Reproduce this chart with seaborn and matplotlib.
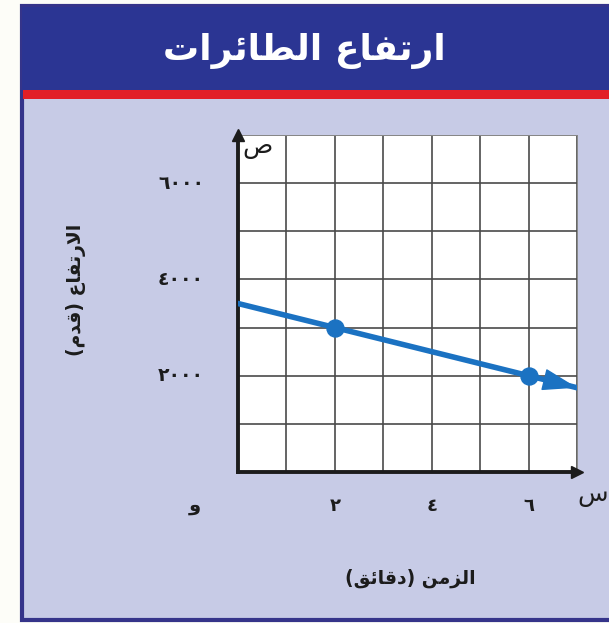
import numpy as np
import pandas as pd
import matplotlib
matplotlib.use("Agg")
import matplotlib.pyplot as plt
from matplotlib.patches import Rectangle
import seaborn as sns

# ── data ─────────────────────────────────────────────
line_x = [0, 2, 6, 7]                 # time (minutes)
line_y = [3500, 3000, 2000, 1750]     # altitude (feet)
pts_x  = [2, 6]
pts_y  = [3000, 2000]
x_ticks  = [2, 4, 6]
x_labels = ["\u0662", "\u0664", "\u0666"]
y_ticks  = [2000, 4000, 6000]
y_labels = ["\u0662\u0660\u0660\u0660", "\u0664\u0660\u0660\u0660", "\u0666\u0660\u0660\u0660"]

# Arabic text, pre-shaped (presentation forms) in visual order
def vis(codes):
    return "".join(chr(c) for c in reversed(codes))

title_txt = vis([0xFE8D, 0xFEAD, 0xFE97, 0xFED4, 0xFE8E, 0xFEC9, 0x20,
                 0xFE8D, 0xFEDF, 0xFEC4, 0xFE8E, 0xFE8B, 0xFEAE, 0xFE8D, 0xFE95])
xlab_txt = "(" + vis([0xFEA9, 0xFED7, 0xFE8E, 0xFE8B, 0xFED6]) + ") " + \
    vis([0xFE8D, 0xFEDF, 0xFEB0, 0xFEE3, 0xFEE6])
ylab_txt = "(" + vis([0xFED7, 0xFEAA, 0xFEE1]) + ") " + \
    vis([0xFE8D, 0xFEFB, 0xFEAD, 0xFE97, 0xFED4, 0xFE8E, 0xFEC9])
origin_txt = "\uFEED"   # و
s_txt = "\uFEB1"        # س
sad_txt = "\uFEB9"      # ص

# ── style ────────────────────────────────────────────
sns.set_theme(style="white")
plt.rcParams["font.family"] = ["DejaVu Sans"]

NAVY  = "#2b3593"
RED   = "#e21f27"
PANEL = "#c7cbe6"
BLUE  = "#1b72c2"
INK   = "#1c1c1c"

fig = plt.figure(figsize=(6.09, 6.23), dpi=100)
fig.patch.set_facecolor("#fdfdf8")

# panel + title bar
fig.patches.append(Rectangle((0.036, 0.005), 1.0, 0.985, transform=fig.transFigure,
                             facecolor=PANEL, edgecolor="#35348a", lw=3, zorder=-3))
fig.patches.append(Rectangle((0.036, 0.854), 1.0, 0.135, transform=fig.transFigure,
                             facecolor=NAVY, edgecolor="none", zorder=-2))
fig.patches.append(Rectangle((0.038, 0.841), 1.0, 0.014, transform=fig.transFigure,
                             facecolor=RED, edgecolor="none", zorder=-2))
fig.text(0.5, 0.918, title_txt, color="white", fontsize=26, fontweight="bold",
         ha="center", va="center", zorder=3)

ax = fig.add_axes([0.3908, 0.2424, 0.5567, 0.5409])
ax.set_zorder(10)
ax.set_facecolor("white")
ax.set_xlim(0, 7)
ax.set_ylim(0, 7000)
ax.set_xticks(range(0, 8))
ax.set_yticks(range(0, 7001, 1000))
ax.grid(True, color="#4a4a4a", lw=1.2)
ax.tick_params(length=0, labelbottom=False, labelleft=False)
for s in ["top", "right"]:
    ax.spines[s].set_color("#888888")
    ax.spines[s].set_linewidth(0.7)
for s in ["left", "bottom"]:
    ax.spines[s].set_color(INK)
    ax.spines[s].set_linewidth(2.8)

# axis arrows
ax.plot(1, 0, ">", color=INK, ms=9, transform=ax.transAxes, clip_on=False, zorder=6)
ax.plot(0, 1, "^", color=INK, ms=9, transform=ax.transAxes, clip_on=False, zorder=6)

# the line
df = pd.DataFrame({"t": line_x, "alt": line_y})
sns.lineplot(data=df, x="t", y="alt", color=BLUE, lw=4, ax=ax, zorder=4)
sns.scatterplot(x=pts_x, y=pts_y, color=BLUE, s=150, edgecolor=BLUE, ax=ax, zorder=5)
ax.annotate("", xy=(line_x[-1], line_y[-1]), xytext=(line_x[-2], line_y[-2]),
            arrowprops=dict(arrowstyle="-|>,head_length=0.75,head_width=0.24",
                            mutation_scale=30, color=BLUE, lw=1,
                            shrinkA=0, shrinkB=0),
            annotation_clip=False, zorder=6)
ax.set_xlabel("")
ax.set_ylabel("")

# tick labels
for xv, lab in zip(x_ticks, x_labels):
    ax.text(xv, -700, lab, ha="center", va="center", fontsize=13,
            fontweight="bold", color=INK, clip_on=False)
ax.text(-0.9, -700, origin_txt, ha="center", va="center", fontsize=14,
        fontweight="bold", color=INK, clip_on=False)
for yv, lab in zip(y_ticks, y_labels):
    ax.text(-0.7, yv, lab, ha="right", va="center", fontsize=13.5,
            fontweight="bold", color=INK, clip_on=False)

ax.text(7.0, -480, s_txt, ha="left", va="center", fontsize=18, color=INK, clip_on=False)
ax.text(0.1, 6750, sad_txt, ha="left", va="center", fontsize=18, color=INK, clip_on=False)

fig.text(0.673, 0.072, xlab_txt, ha="center", va="center", fontsize=13.5,
         fontweight="bold", color=INK)
fig.text(0.125, 0.535, ylab_txt, ha="center", va="center", fontsize=13.5,
         fontweight="bold", color=INK, rotation=90)

fig.savefig("out.png", dpi=100, facecolor=fig.get_facecolor())
